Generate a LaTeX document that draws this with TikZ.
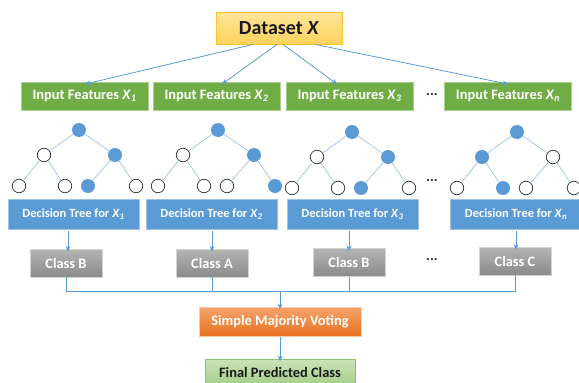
\documentclass[tikz,border=0pt]{standalone}
\usepackage{fontspec}
\setmainfont{Carlito}
\usetikzlibrary{arrows.meta}

\definecolor{dsTop}{HTML}{FFE59A}
\definecolor{dsBot}{HTML}{FFD35C}
\definecolor{dsLine}{HTML}{FFC42E}
\definecolor{featFill}{HTML}{70AD47}
\definecolor{featLine}{HTML}{A9D18E}
\definecolor{treeFill}{HTML}{5B9BD5}
\definecolor{treeLine}{HTML}{9DC3E6}
\definecolor{clsTop}{HTML}{B4B4B4}
\definecolor{clsBot}{HTML}{8A8A8A}
\definecolor{clsLine}{HTML}{D4D4D4}
\definecolor{voteTop}{HTML}{F4A36B}
\definecolor{voteBot}{HTML}{E8711E}
\definecolor{voteLine}{HTML}{F8CBAD}
\definecolor{finTop}{HTML}{C9E3B8}
\definecolor{finBot}{HTML}{A5CF8A}
\definecolor{finLine}{HTML}{8CC06A}
\definecolor{arrowBlue}{HTML}{5B9BD5}
\definecolor{edgeBlue}{HTML}{9DC3E6}

\newcommand\xsub[1]{\textsubscript{\textit{#1}}}

% one binary tree: name, root position, fill pattern of its seven nodes
\newcommand\drawtree[3]{\def\tname{#1}%
  \begin{scope}[shift={(#2)}]\drawtreenodes#3\end{scope}}
\def\drawtreenodes#1#2#3#4#5#6#7{%
  \node[tn#1] (\tname-r)  at (0,0)   {};
  \node[tn#2] (\tname-a)  at (-35,25) {};
  \node[tn#3] (\tname-b)  at (36,25)  {};
  \node[tn#4] (\tname-aa) at (-60,56) {};
  \node[tn#5] (\tname-ab) at (-14,56) {};
  \node[tn#6] (\tname-ba) at (9,56)   {};
  \node[tn#7] (\tname-bb) at (57,56)  {};
  \draw[tedge] (\tname-r) -- (\tname-a);
  \draw[tedge] (\tname-r) -- (\tname-b);
  \draw[tedge] (\tname-a) -- (\tname-aa);
  \draw[tedge] (\tname-a) -- (\tname-ab);
  \draw[tedge] (\tname-b) -- (\tname-ba);
  \draw[tedge] (\tname-b) -- (\tname-bb);
}

\tikzset{
  box/.style={rectangle, inner sep=0pt, text=white, line width=0.8pt},
  mid/.style={font=\bfseries\fontsize{14.4}{17}\selectfont},
  dsbox/.style={box, minimum width=126pt, minimum height=32pt,
    top color=dsTop, bottom color=dsBot, draw=dsLine, text=black!90,
    font=\bfseries\fontsize{20}{24}\selectfont},
  featbox/.style={box, mid, minimum width=127pt, minimum height=28pt,
    fill=featFill, draw=featLine},
  treebox/.style={box, minimum width=131pt, minimum height=30pt,
    fill=treeFill, draw=treeLine, font=\bfseries\fontsize{12.5}{15}\selectfont},
  classbox/.style={box, mid, minimum width=72pt, minimum height=28pt,
    top color=clsTop, bottom color=clsBot, draw=clsLine},
  votebox/.style={box, mid, minimum width=162pt, minimum height=29pt,
    top color=voteTop, bottom color=voteBot, draw=voteLine},
  finalbox/.style={box, mid, minimum width=150pt, minimum height=26pt,
    top color=finTop, bottom color=finBot, draw=finLine, text=black!90},
  arr/.style={draw=arrowBlue, line width=0.8pt, -{Stealth[length=5.5pt,width=5pt]}},
  busline/.style={draw=arrowBlue, line width=0.8pt},
  tnf/.style={circle, minimum size=14pt, inner sep=0pt, fill=treeFill},
  tnw/.style={circle, minimum size=13.5pt, inner sep=0pt, fill=white,
    draw=black!80, line width=0.7pt},
  tedge/.style={draw=edgeBlue, line width=0.7pt},
  dots/.style={mid, text=black!85},
}

\begin{document}
\begin{tikzpicture}[x=1pt, y=-1pt]
  \useasboundingbox (0,0) rectangle (579,383);
  \clip (0,0) rectangle (579,383);

  % dataset and feature subsets
  \node[dsbox] (ds) at (279,28) {Dataset \textit{X}};
  \node[featbox] (f1) at (84.5,96)  {Input Features \textit{X}\xsub{1}};
  \node[featbox] (f2) at (216.5,96) {Input Features \textit{X}\xsub{2}};
  \node[featbox] (f3) at (349.5,96) {Input Features \textit{X}\xsub{3}};
  \node[featbox] (fn) at (508,96)   {Input Features \textit{X}\xsub{n}};
  \node[dots] (dotsA) at (432,95) {...};

  \draw[arr] ([xshift=-26pt]ds.south) -- ([xshift=0.5pt,yshift=-2.5pt]f1.north);
  \draw[arr] ([xshift=-2pt]ds.south)  -- ([xshift=5.5pt,yshift=-2.5pt]f2.north);
  \draw[arr] ([xshift=4pt]ds.south)   -- ([xshift=-12.5pt,yshift=-2.5pt]f3.north);
  \draw[arr] ([xshift=36pt]ds.south)  -- ([yshift=-2.5pt]fn.north);

  % the trees
  \drawtree{t1}{79,130}{fwfwwfw}
  \drawtree{t2}{218,130}{fwfwwwf}
  \drawtree{t3}{352,132}{fwfwwfw}
  \drawtree{tn}{517,132}{ffwwfww}
  \node[dots] (dotsB) at (432,181) {...};

  \node[treebox] (d1) at (73.5,214)  {Decision Tree for \textit{X}\xsub{1}};
  \node[treebox] (d2) at (211.5,214) {Decision Tree for \textit{X}\xsub{2}};
  \node[treebox] (d3) at (352.5,214) {Decision Tree for \textit{X}\xsub{3}};
  \node[treebox] (dn) at (516,214)   {Decision Tree for \textit{X}\xsub{n}};

  % predictions
  \node[classbox] (c1) at (66,263)    {Class B};
  \node[classbox] (c2) at (212,263)   {Class A};
  \node[classbox] (c3) at (349,262.5) {Class B};
  \node[classbox] (cn) at (515,261)   {Class C};
  \node[dots] (dotsC) at (432,260) {...};

  \draw[arr] (c1.north |- d1.south) ++(2,2) -- ([xshift=2pt,yshift=-3pt]c1.north);
  \draw[arr] (c2.north |- d2.south) ++(0,2) -- ([yshift=-3pt]c2.north);
  \draw[arr] (c3.north |- d3.south) ++(0,2) -- ([yshift=-3pt]c3.north);
  \draw[arr] (cn.north |- dn.south) ++(1,2) -- ([xshift=1pt,yshift=-3pt]cn.north);

  % voting
  \coordinate (bus) at (280,291);
  \node[votebox] (vote) at (280,322) {Simple Majority Voting};
  \node[finalbox] (final) at (280,372) {Final Predicted Class};

  \draw[busline] (c1.south) |- (cn.south |- bus) -- (cn.south);
  \draw[busline] (c2.south) -- (c2.south |- bus);
  \draw[busline] (c3.south) -- (c3.south |- bus);
  \draw[arr] (bus) -- ([yshift=-2pt]vote.north);
  \draw[arr] (vote.south) -- ([yshift=-2.5pt]final.north);
\end{tikzpicture}
\end{document}
